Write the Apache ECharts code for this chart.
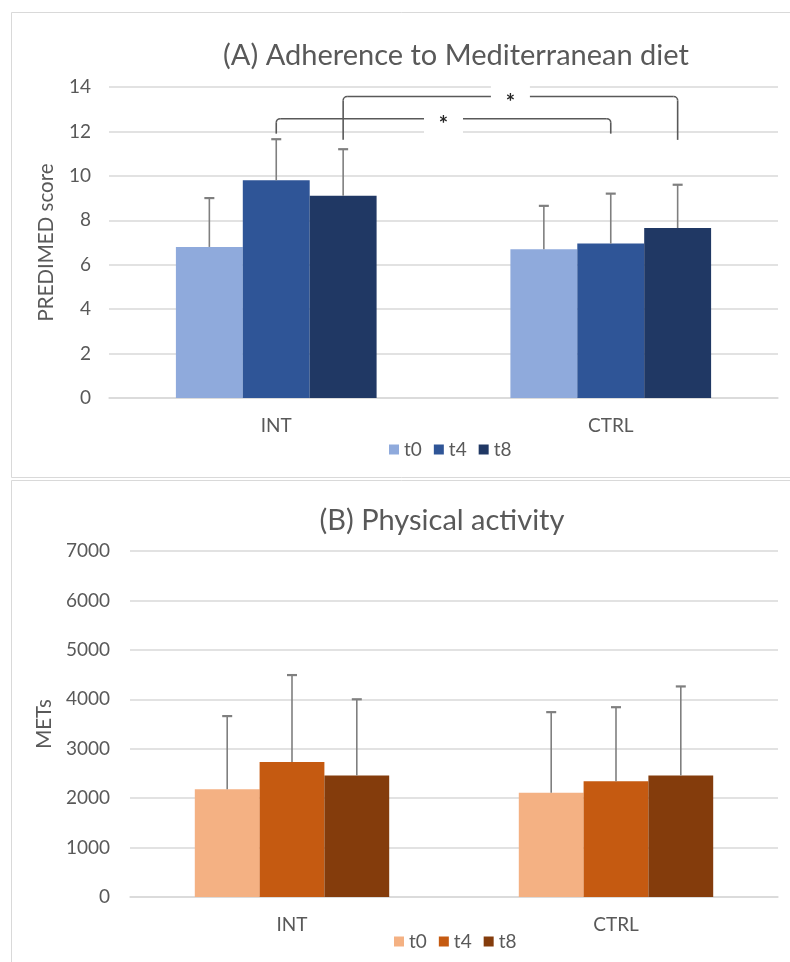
<!DOCTYPE html>
<html>
<head>
<meta charset="utf-8">
<script src="https://cdn.jsdelivr.net/npm/echarts@6/dist/echarts.min.js"></script>
<style>
html,body{margin:0;padding:0;background:#fff;overflow:hidden;}
#chart{width:790px;height:962px;}
</style>
</head>
<body>
<div id="chart"></div>
<script>
// ---------- data ----------
const categories = ['INT', 'CTRL'];
const timePoints = ['t0', 't4', 't8'];

// (A) PREDIMED score, mean and SD per group
const dietT0 = [6.8, 6.7];
const dietT4 = [9.8, 6.95];
const dietT8 = [9.1, 7.65];
const dietSdT0 = [2.2, 1.95];
const dietSdT4 = [1.85, 2.25];
const dietSdT8 = [2.1, 1.95];

// (B) METs, mean and SD per group
const metsT0 = [2180, 2110];
const metsT4 = [2730, 2340];
const metsT8 = [2460, 2460];
const metsSdT0 = [1480, 1630];
const metsSdT4 = [1760, 1500];
const metsSdT8 = [1540, 1800];

// significance brackets in (A): [fromCategory, fromTimepoint, toCategory, toTimepoint, lineLevel, endLevel]
const dietBrackets = [
  [0, 1, 1, 1, 12.57, 11.9],
  [0, 2, 1, 2, 13.57, 11.62]
];
const bracketLabels = ['*', '*'];

// ---------- styles ----------
const blueColors = ['#8faadc', '#2f5597', '#203864'];
const orangeColors = ['#f4b183', '#c55a11', '#843c0c'];
const textColor = '#595959';
const gridColor = '#d9d9d9';
const errColor = '#7f7f7f';
const FONT = 'Lato';

function errRender(slot) {
  return function (params, api) {
    const ci = api.value(0), m = api.value(1), sd = api.value(2);
    const band = api.size([1, 0])[0];
    const c = api.coord([ci, m]);
    const t = api.coord([ci, m + sd]);
    const x = c[0] + (slot - 1) * band * 0.2;
    return {
      type: 'group',
      children: [
        { type: 'line', shape: { x1: x, y1: c[1], x2: x, y2: t[1] }, style: { stroke: errColor, lineWidth: 1.6 } },
        { type: 'line', shape: { x1: x - 5, y1: t[1], x2: x + 5, y2: t[1] }, style: { stroke: errColor, lineWidth: 2.2 } }
      ]
    };
  };
}

function bracketRender(params, api) {
  const band = api.size([1, 0])[0];
  const fc = api.value(0), fs = api.value(1), tc = api.value(2), ts = api.value(3);
  const lv = api.value(4), ev = api.value(5);
  const p1 = api.coord([fc, lv]);
  const p2 = api.coord([tc, lv]);
  const pe = api.coord([fc, ev]);
  const x1 = p1[0] + (fs - 1) * band * 0.2;
  const x2 = p2[0] + (ts - 1) * band * 0.2;
  const yL = p1[1], yE = pe[1];
  const r = 4;
  const st = { stroke: '#595959', lineWidth: 1.6, fill: null };
  const xm = (x1 + x2) / 2;
  return {
    type: 'group',
    children: [
      { type: 'line', shape: { x1: x1, y1: yE, x2: x1, y2: yL + r }, style: st },
      { type: 'arc', shape: { cx: x1 + r, cy: yL + r, r: r, startAngle: Math.PI, endAngle: Math.PI * 1.5, clockwise: true }, style: st },
      { type: 'line', shape: { x1: x1 + r, y1: yL, x2: x2 - r, y2: yL }, style: st },
      { type: 'arc', shape: { cx: x2 - r, cy: yL + r, r: r, startAngle: Math.PI * 1.5, endAngle: Math.PI * 2, clockwise: true }, style: st },
      { type: 'line', shape: { x1: x2, y1: yL + r, x2: x2, y2: yE }, style: st },
      { type: 'rect', shape: { x: xm - 19.5, y: yL - 15, width: 39, height: 30 }, style: { fill: '#ffffff' } },
      { type: 'text', x: xm, y: yL + 6, style: { text: bracketLabels[params.dataIndex], fontSize: 22, fontWeight: 'bold', fill: '#262626', align: 'center', verticalAlign: 'middle', fontFamily: FONT } }
    ]
  };
}

const dietMeans = [dietT0, dietT4, dietT8];
const dietSds = [dietSdT0, dietSdT4, dietSdT8];
const metsMeans = [metsT0, metsT4, metsT8];
const metsSds = [metsSdT0, metsSdT4, metsSdT8];

const series = [];
timePoints.forEach((tp, i) => {
  series.push({
    name: tp, type: 'bar', xAxisIndex: 0, yAxisIndex: 0,
    data: dietMeans[i], barGap: '0%', barCategoryGap: '40%',
    itemStyle: { color: blueColors[i] }, silent: true, z: 2
  });
});
timePoints.forEach((tp, i) => {
  series.push({
    name: tp, type: 'bar', xAxisIndex: 1, yAxisIndex: 1,
    data: metsMeans[i], barGap: '0%', barCategoryGap: '40%',
    itemStyle: { color: orangeColors[i] }, silent: true, z: 2
  });
});
timePoints.forEach((tp, i) => {
  series.push({
    type: 'custom', xAxisIndex: 0, yAxisIndex: 0, z: 3, silent: true,
    renderItem: errRender(i),
    data: categories.map((c, k) => [k, dietMeans[i][k], dietSds[i][k]])
  });
  series.push({
    type: 'custom', xAxisIndex: 1, yAxisIndex: 1, z: 3, silent: true,
    renderItem: errRender(i),
    data: categories.map((c, k) => [k, metsMeans[i][k], metsSds[i][k]])
  });
});
series.push({
  type: 'custom', xAxisIndex: 0, yAxisIndex: 0, z: 4, silent: true,
  renderItem: bracketRender, data: dietBrackets
});

const axisLabelStyle = { color: textColor, fontSize: 19, fontFamily: FONT };

const option = {
  animation: false,
  backgroundColor: '#ffffff',
  textStyle: { fontFamily: FONT },
  graphic: [
    { type: 'rect', shape: { x: 11.5, y: 12.5, width: 800, height: 465 }, style: { fill: null, stroke: '#d9d9d9', lineWidth: 1 }, silent: true },
    { type: 'rect', shape: { x: 11.5, y: 480.5, width: 800, height: 500 }, style: { fill: null, stroke: '#d9d9d9', lineWidth: 1 }, silent: true }
  ],
  title: [
    { text: '(A) Adherence to Mediterranean diet', left: 451, top: 36, textAlign: 'center',
      textStyle: { color: textColor, fontSize: 29, fontWeight: 'normal', fontFamily: FONT } },
    { text: '(B) Physical activity', left: 437, top: 501, textAlign: 'center',
      textStyle: { color: textColor, fontSize: 29, fontWeight: 'normal', fontFamily: FONT } }
  ],
  legend: [
    { data: timePoints.map((t, i) => ({ name: t, itemStyle: { color: blueColors[i] } })),
      left: 384, top: 435, itemWidth: 10, itemHeight: 10, itemGap: 12, icon: 'rect',
      textStyle: { color: textColor, fontSize: 19, fontFamily: FONT }, selectedMode: false },
    { data: timePoints.map((t, i) => ({ name: t, itemStyle: { color: orangeColors[i] } })),
      left: 389, top: 927, itemWidth: 10, itemHeight: 10, itemGap: 12, icon: 'rect',
      textStyle: { color: textColor, fontSize: 19, fontFamily: FONT }, selectedMode: false }
  ],
  grid: [
    { left: 109, top: 87, width: 669, height: 311 },
    { left: 130, top: 551, width: 648, height: 346 }
  ],
  xAxis: [0, 1].map(g => ({
    type: 'category', gridIndex: g, data: categories,
    axisTick: { show: false },
    axisLine: { lineStyle: { color: gridColor, width: 1.5 } },
    axisLabel: Object.assign({ margin: 18 }, axisLabelStyle)
  })),
  yAxis: [
    { type: 'value', gridIndex: 0, min: 0, max: 14, interval: 2,
      name: 'PREDIMED score', nameLocation: 'middle', nameRotate: 90, nameGap: 52,
      nameTextStyle: { color: textColor, fontSize: 20.5, fontFamily: FONT },
      axisLine: { show: false }, axisTick: { show: false },
      splitLine: { lineStyle: { color: gridColor, width: 1.5 } },
      axisLabel: Object.assign({ margin: 18, formatter: v => String(v) }, axisLabelStyle) },
    { type: 'value', gridIndex: 1, min: 0, max: 7000, interval: 1000,
      name: 'METs', nameLocation: 'middle', nameRotate: 90, nameGap: 69,
      nameTextStyle: { color: textColor, fontSize: 20.5, fontFamily: FONT },
      axisLine: { show: false }, axisTick: { show: false },
      splitLine: { lineStyle: { color: gridColor, width: 1.5 } },
      axisLabel: Object.assign({ margin: 20, formatter: v => String(v) }, axisLabelStyle) }
  ],
  series: series
};

const chart = echarts.init(document.getElementById('chart'), null, { renderer: 'canvas' });
chart.setOption(option);
</script>
</body>
</html>
